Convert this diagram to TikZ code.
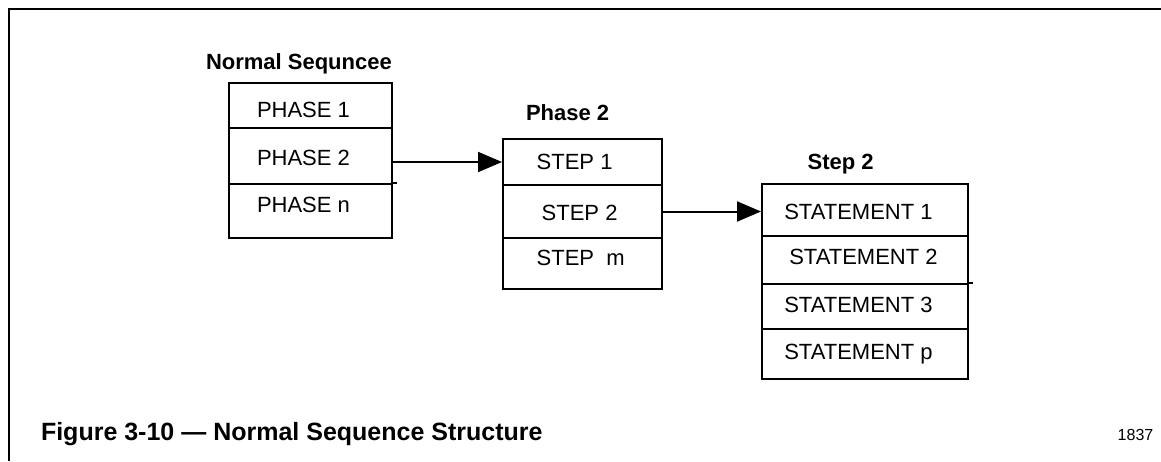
\documentclass[tikz,border=0pt]{standalone}
\usepackage{fontspec}
\setmainfont{Liberation Sans}
\usetikzlibrary{arrows.meta}
\begin{document}
\begin{tikzpicture}[x=0.75pt,y=-0.75pt,
  line width=1.5pt,
  cell/.style={draw,line width=1.5pt,inner sep=0pt,minimum width=#1},
  lbl/.style={anchor=base west,inner sep=0pt,font=\fontsize{16.5pt}{18pt}\selectfont},
  ttl/.style={anchor=base west,inner sep=0pt,font=\fontsize{16.5pt}{18pt}\selectfont\bfseries},
  arr/.style={-{Triangle[length=18pt,width=15pt]},line width=1.5pt}]
\useasboundingbox (0,0) rectangle (1161,461);

% page frame
\coordinate (fl) at (9,8);
\coordinate (fb) at (9,461);
\coordinate (fr) at (1161,9);
\draw[line width=1.8pt] (fl |- fr) -- (fr);
\draw[line width=1.8pt] (fl) -- (fb);

% Normal sequence box
\node[cell=122.25pt,minimum height=33.75pt] (c11) at (310.5,105.5) {};
\node[cell=122.25pt,minimum height=42pt]    (c12) at (310.5,156) {};
\node[cell=122.25pt,minimum height=40.5pt]  (c13) at (310.5,211) {};
\draw (c13.north east) -- ++(4,0);
\node[ttl] (t1) at (205,69.3) {Normal Sequncee};
\node[lbl] (p1) at (256,117.3) {PHASE 1};
\node[lbl] (p2) at (256,165.7) {PHASE 2};
\node[lbl] (p3) at (256,212.8) {PHASE n};

% Phase 2 box
\node[cell=119.25pt,minimum height=34.5pt]  (c21) at (582.5,162) {};
\node[cell=119.25pt,minimum height=39.75pt] (c22) at (582.5,211.5) {};
\node[cell=119.25pt,minimum height=38.25pt] (c23) at (582.5,263.5) {};
\node[ttl] (t2) at (525,120) {Phase 2};
\node[lbl] (s1) at (535.7,169.5) {STEP 1};
\node[lbl] (s2) at (540.7,220.5) {STEP 2};
\node[lbl] (s3) at (535.7,265.5) {STEP\ \ m};

% Step 2 box
\node[cell=154.5pt,minimum height=39pt]    (c31) at (865,210) {};
\node[cell=154.5pt,minimum height=36pt]    (c32) at (865,260) {};
\node[cell=154.5pt,minimum height=33.75pt] (c33) at (865,306.5) {};
\node[cell=154.5pt,minimum height=37.5pt]  (c34) at (865,354) {};
\draw (c33.north east) -- ++(4,0);
\node[ttl] (t3) at (806.7,169.3) {Step 2};
\node[lbl] (m1) at (783.3,219.7) {STATEMENT 1};
\node[lbl] (m2) at (788.3,264.7) {STATEMENT 2};
\node[lbl] (m3) at (783.3,312.4) {STATEMENT 3};
\node[lbl] (m4) at (783.3,359) {STATEMENT p};

% connectors
\draw[arr] (c12.east |- c21.west) -- (c21.west);
\draw[arr] (c22.east) -- (c22.east -| c31.west);

% caption and figure number
\node[anchor=base west,inner sep=0pt,font=\fontsize{18.75pt}{21pt}\selectfont\bfseries] (cap) at (40,440) {Figure 3-10 — Normal Sequence Structure};
\node[anchor=base west,inner sep=0pt,font=\fontsize{12pt}{14pt}\selectfont] (num) at (1116.7,440.7) {1837};
\end{tikzpicture}
\end{document}
